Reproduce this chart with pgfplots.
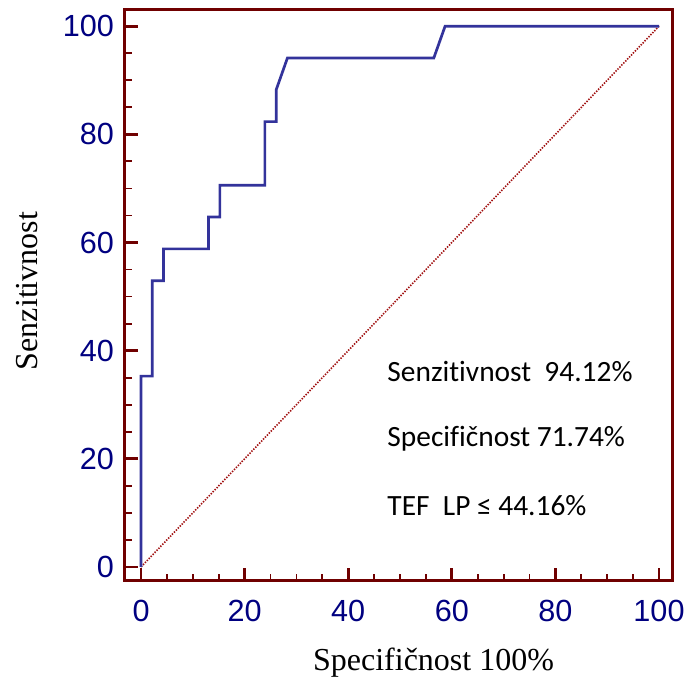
\documentclass[border=0pt]{standalone}
\usepackage{fontspec}
\setmainfont{Liberation Serif}
\newfontfamily\arialf{Liberation Sans}
\newfontfamily\calibrif[Ligatures={NoCommon,NoDiscretionary}]{Carlito}
\usepackage{pgfplots}
\pgfplotsset{compat=1.18}
\definecolor{frame}{RGB}{112,0,0}
\definecolor{curve}{RGB}{51,51,155}
\definecolor{diag}{RGB}{160,15,15}
\definecolor{navyt}{RGB}{0,0,128}
\begin{document}
\begin{tikzpicture}
\begin{axis}[
  scale only axis, width=274pt, height=285.5pt,
  xmin=-3.1, xmax=102.7, ymin=-2.6, ymax=103,
  axis line style={draw=frame, line width=1.5pt},
  xtick={0,20,40,60,80,100}, ytick={0,20,40,60,80,100},
  minor tick num=3,
  tick align=inside, xtick pos=bottom, ytick pos=left,
  major tick length=6.5pt, minor tick length=3.5pt,
  every major tick/.style={draw=frame, line width=1.4pt},
  every minor tick/.style={draw=frame, line width=0.9pt},
  /pgf/number format/assume math mode=true,
  ticklabel style={font=\arialf\fontsize{15.3}{18}\selectfont, text=navyt},
  xticklabel style={yshift=-6pt},
  yticklabel style={xshift=-2pt},
  xlabel={Specifičnost 100\%},
  ylabel={Senzitivnost},
  label style={font=\fontsize{16}{19}\selectfont},
  xlabel style={at={(axis description cs:0.563,-0.1436)}, anchor=center},
  ylabel style={at={(axis description cs:-0.179,0.508)}, anchor=center},
  clip=false,
]
\addplot[diag, line width=0.8pt, dash pattern=on 0.7pt off 0.7pt] coordinates {(0,0) (100,100)};
\addplot[curve, line width=1.35pt] coordinates {
(0,0) (0,35.29) (2.17,35.29) (2.17,52.94) (4.35,52.94) (4.35,58.82)
(13.04,58.82) (13.04,64.71) (15.22,64.71) (15.22,70.59) (23.91,70.59)
(23.91,82.35) (26.09,82.35) (26.09,88.24) (28.26,94.12) (56.52,94.12)
(58.70,100) (100,100)};
\node[anchor=west, font=\calibrif\fontsize{14.7}{17}\selectfont, inner sep=0pt] at (axis cs:47.5,36.2) {Senzit\kern0pt ivnost\ \ 94.12\%};
\node[anchor=west, font=\calibrif\fontsize{14.7}{17}\selectfont, inner sep=0pt] at (axis cs:47.5,23.7) {Specif\kern0pt ičnost 71.74\%};
\node[anchor=west, font=\calibrif\fontsize{14.7}{17}\selectfont, inner sep=0pt] at (axis cs:47.5,11.3) {TEF\ \ LP ≤ 44.16\%};
\end{axis}
\pgfresetboundingbox
\path[use as bounding box] (-62.5pt,-51.5pt) rectangle (281pt,290.5pt);
\end{tikzpicture}
\end{document}
